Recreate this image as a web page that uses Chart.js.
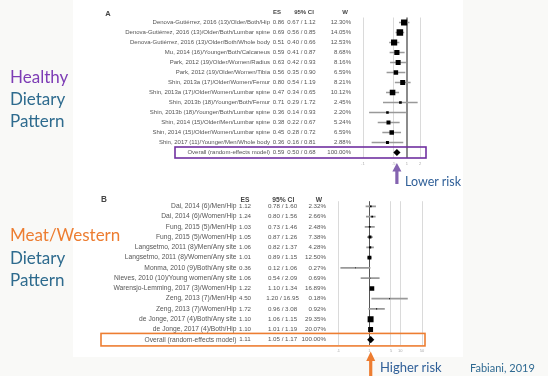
<!DOCTYPE html>
<html><head><meta charset="utf-8">
<script src="https://cdn.jsdelivr.net/npm/chart.js@4.4.1/dist/chart.umd.min.js"></script>
<style>
html,body{margin:0;padding:0;width:548px;height:376px;overflow:hidden;background:#f9f9f7;}
#paper{position:absolute;left:73px;top:0;width:390px;height:357px;background:#fff;}
canvas{position:absolute;left:0;}
#cA{top:0;}
#cB{top:190px;}
svg{position:absolute;left:0;top:0;pointer-events:none;}
</style></head><body>
<div id="paper"></div>
<canvas id="cA" width="548" height="190"></canvas>
<canvas id="cB" width="548" height="186"></canvas>
<svg width="548" height="376" xmlns="http://www.w3.org/2000/svg" font-family="Lato">
  <text x="10" y="82.7" font-size="17" fill="#7d3cb5">Healthy</text>
  <text x="10" y="105" font-size="17" fill="#2e6b8e">Dietary</text>
  <text x="10" y="127.3" font-size="17" fill="#2e6b8e">Pattern</text>
  <text x="10" y="241" font-size="17" fill="#ed7d31">Meat/Western</text>
  <text x="10" y="264" font-size="17" fill="#2e6b8e">Dietary</text>
  <text x="10" y="286" font-size="17" fill="#2e6b8e">Pattern</text>
  <text x="405" y="185.5" font-size="12.5" fill="#2f5f98">Lower risk</text>
  <text x="380" y="372" font-size="13" fill="#2f5f98">Higher risk</text>
  <text x="470" y="372" font-size="11" fill="#2f6a92">Fabiani, 2019</text>
</svg>
<script>
// ---------- Panel A: healthy dietary pattern ----------
const studiesA = [
  "Denova-Gutiérrez, 2016 (13)/Older/Both/Hip",
  "Denova-Gutiérrez, 2016 (13)/Older/Both/Lumbar spine",
  "Denova-Gutiérrez, 2016 (13)/Older/Both/Whole body",
  "Mu, 2014 (16)/Younger/Both/Calcaneus",
  "Park, 2012 (19)/Older/Women/Radius",
  "Park, 2012 (19)/Older/Women/Tibia",
  "Shin, 2013a (17)/Older/Women/Femur",
  "Shin, 2013a (17)/Older/Women/Lumbar spine",
  "Shin, 2013b (18)/Younger/Both/Femur",
  "Shin, 2013b (18)/Younger/Both/Lumbar spine",
  "Shin, 2014 (15)/Older/Men/Lumbar spine",
  "Shin, 2014 (15)/Older/Women/Lumbar spine",
  "Shin, 2017 (11)/Younger/Men/Whole body",
  "Overall (random-effects model)"
];
const esA = [0.86, 0.69, 0.51, 0.59, 0.63, 0.56, 0.80, 0.47, 0.71, 0.36, 0.38, 0.45, 0.36, 0.59];
const loA = [0.67, 0.56, 0.40, 0.41, 0.42, 0.35, 0.54, 0.34, 0.29, 0.14, 0.22, 0.28, 0.16, 0.50];
const hiA = [1.12, 0.85, 0.66, 0.87, 0.93, 0.90, 1.19, 0.65, 1.72, 0.93, 0.67, 0.72, 0.81, 0.68];
const wA  = [12.30, 14.05, 12.53, 8.68, 8.16, 6.59, 8.21, 10.12, 2.45, 2.20, 5.24, 6.59, 2.88, 100.00];
const ticksA = [0.1, 0.5, 1, 2];
const tickLabelsA = [".1", ".5", "1", "2"];

// ---------- Panel B: meat / western dietary pattern ----------
const studiesB = [
  "Dai, 2014 (6)/Men/Hip",
  "Dai, 2014 (6)/Women/Hip",
  "Fung, 2015 (5)/Men/Hip",
  "Fung, 2015 (5)/Women/Hip",
  "Langsetmo, 2011 (8)/Men/Any site",
  "Langsetmo, 2011 (8)/Women/Any site",
  "Monma, 2010 (9)/Both/Any site",
  "Nieves, 2010 (10)/Young women/Any site",
  "Warensjo-Lemming, 2017 (3)/Women/Hip",
  "Zeng, 2013 (7)/Men/Hip",
  "Zeng, 2013 (7)/Women/Hip",
  "de Jonge, 2017 (4)/Both/Any site",
  "de Jonge, 2017 (4)/Both/Hip",
  "Overall (random-effects model)"
];
const esB = [1.12, 1.24, 1.03, 1.05, 1.06, 1.01, 0.36, 1.06, 1.22, 4.50, 1.72, 1.10, 1.10, 1.11];
const loB = [0.78, 0.80, 0.73, 0.87, 0.82, 0.89, 0.12, 0.54, 1.10, 1.20, 0.96, 1.06, 1.01, 1.05];
const hiB = [1.60, 1.56, 1.46, 1.26, 1.37, 1.15, 1.06, 2.09, 1.34, 16.95, 3.08, 1.15, 1.19, 1.17];
const wB  = [2.32, 2.66, 2.48, 7.38, 4.28, 12.50, 0.27, 0.69, 16.89, 0.18, 0.92, 29.35, 20.07, 100.00];
const ticksB = [0.1, 1, 5, 10, 50];
const tickLabelsB = [".1", "1", "5", "10", "50"];

const FONT = '"Liberation Sans", Arial, sans-serif';

const forestText = {
  id: 'forestText',
  afterDraw(chart, args, o) {
    const ctx = chart.ctx, ys = chart.scales.y, xs = chart.scales.x;
    const n = o.labels.length, ov = n - 1;
    ctx.save();
    ctx.textBaseline = 'middle';
    ctx.fillStyle = '#444';
    ctx.font = 'bold ' + o.fs + 'px ' + FONT;
    ctx.textAlign = 'center';
    ctx.fillText('ES', o.hES, o.headY);
    ctx.fillText('95% CI', o.hCI, o.headY);
    ctx.fillText('W', o.hW, o.headY);
    ctx.font = 'bold ' + (o.fs + 1.5) + 'px ' + FONT;
    ctx.fillText(o.letter, o.letterX, o.letterY);
    ctx.fillStyle = '#555';
    for (let i = 0; i < n; i++) {
      const py = ys.getPixelForValue(i);
      ctx.font = o.fs + 'px ' + FONT;
      ctx.textAlign = 'right';
      ctx.fillText(o.labels[i], o.cLab, py);
      ctx.font = o.fsNum + 'px ' + FONT;
      ctx.textAlign = 'center';
      ctx.fillText(o.es[i].toFixed(2), o.cES, py);
      ctx.fillText(o.lo[i].toFixed(2) + ' / ' + o.hi[i].toFixed(2), o.cCI, py);
      ctx.textAlign = 'right';
      ctx.fillText(o.w[i].toFixed(2) + '%', o.cW, py);
    }
    const pyo = ys.getPixelForValue(ov);
    ctx.strokeStyle = o.boxColor;
    ctx.lineWidth = 1.6;
    ctx.strokeRect(o.boxX1, pyo - o.boxH / 2, o.boxX2 - o.boxX1, o.boxH);
    const ax = xs.getPixelForValue(o.es[ov]);
    ctx.fillStyle = o.arrowColor;
    ctx.beginPath();
    ctx.moveTo(ax, o.arTip);
    ctx.lineTo(ax + 4.5, o.arBase);
    ctx.lineTo(ax + 1.6, o.arBase);
    ctx.lineTo(ax + 1.6, o.arEnd);
    ctx.lineTo(ax - 1.6, o.arEnd);
    ctx.lineTo(ax - 1.6, o.arBase);
    ctx.lineTo(ax - 4.5, o.arBase);
    ctx.closePath();
    ctx.fill();
    ctx.restore();
  }
};

function forest(id, d) {
  const n = d.labels.length, ov = n - 1;
  return new Chart(document.getElementById(id), {
    type: 'bar',
    data: {
      labels: d.labels,
      datasets: [
        {
          type: 'bar',
          data: d.lo.map((l, i) => i === ov ? null : [l, d.hi[i]]),
          backgroundColor: '#999999',
          borderWidth: 0,
          barThickness: 1,
          order: 2
        },
        {
          type: 'scatter',
          data: d.es.map((e, i) => ({ x: e, y: d.labels[i] })),
          pointStyle: d.es.map((e, i) => i === ov ? 'rectRot' : 'rect'),
          pointRadius: d.w.map((w, i) => i === ov ? 3.6 : Math.max(0.7, d.k * Math.sqrt(w) / 1.414)),
          backgroundColor: '#000',
          borderWidth: 0,
          order: 1
        }
      ]
    },
    options: {
      indexAxis: 'y',
      responsive: false,
      animation: false,
      events: [],
      layout: { padding: d.pad },
      plugins: {
        legend: { display: false },
        tooltip: { enabled: false },
        forestText: d.text
      },
      scales: {
        x: {
          type: 'logarithmic',
          min: d.min, max: d.max,
          afterBuildTicks: s => { s.ticks = d.ticks.map(v => ({ value: v })); },
          afterFit: s => { s.height = 10; },
          border: { display: false },
          grid: {
            drawTicks: false,
            color: c => (c.tick && c.tick.value === 1) ? d.nullColor : '#dadada',
            lineWidth: c => (c.tick && c.tick.value === 1) ? d.nullWidth : 1
          },
          ticks: {
            padding: 4, autoSkip: false, maxRotation: 0,
            font: { size: 4, family: FONT }, color: '#aaa',
            callback: (v, i) => d.tickLabels[i]
          }
        },
        y: { display: false }
      }
    },
    plugins: [forestText]
  });
}

const textA = {
  labels: studiesA, es: esA, lo: loA, hi: hiA, w: wA, fs: 6.0, fsNum: 6.0,
  cLab: 270, cES: 278.5, cCI: 301.5, cW: 351,
  headY: 12, hES: 277, hCI: 304, hW: 345,
  letter: 'A', letterX: 108, letterY: 14,
  boxX1: 175, boxX2: 426, boxH: 11, boxColor: '#7030a0',
  arrowColor: '#8463b0', arTip: 163, arBase: 171.5, arEnd: 184
};
forest('cA', {
  labels: studiesA, es: esA, lo: loA, hi: hiA, w: wA,
  min: 0.1, max: 2, ticks: ticksA, tickLabels: tickLabelsA, k: 1.75,
  nullColor: '#8c8c8c', nullWidth: 2,
  pad: { left: 363, right: 548 - 420.2, top: 17.5, bottom: 190 - 157.5 - 10 },
  text: textA
});

const textB = {
  labels: studiesB, es: esB, lo: loB, hi: hiB, w: wB, fs: 6.7, fsNum: 6.2,
  cLab: 236.5, cES: 245, cCI: 282.5, cW: 326,
  headY: 10.5, hES: 245, hCI: 283.3, hW: 319,
  letter: 'B', letterX: 104, letterY: 10,
  boxX1: 101, boxX2: 425, boxH: 12.5, boxColor: '#ed7d31',
  arrowColor: '#ed7d31', arTip: 161.5, arBase: 171, arEnd: 186
};
forest('cB', {
  labels: studiesB, es: esB, lo: loB, hi: hiB, w: wB,
  min: 0.1, max: 50, ticks: ticksB, tickLabels: tickLabelsB, k: 1.1,
  nullColor: '#555', nullWidth: 1,
  pad: { left: 338.3, right: 548 - 422, top: 11.2, bottom: 186 - 154.8 - 10 },
  text: textB
});
</script>
</body></html>
